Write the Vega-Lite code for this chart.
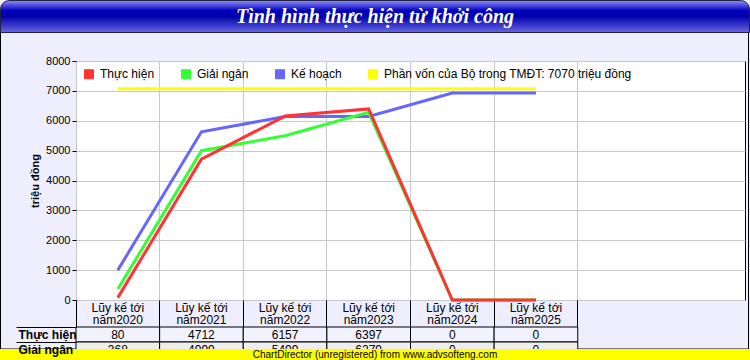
{
  "$schema": "https://vega.github.io/schema/vega-lite/v6.json",
  "width": 669,
  "height": 239,
  "autosize": {"type": "none"},
  "padding": {"left": 76, "top": 61, "right": 5, "bottom": 60},
  "background": "#eeeeff",
  "view": {"fill": "white", "stroke": "black", "strokeWidth": 1},
  "config": {
    "font": "Liberation Sans",
    "axis": {"labelFont": "Liberation Sans", "titleFont": "Liberation Sans"},
    "legend": {"labelFont": "Liberation Sans"}
  },
  "datasets": {
    "series": [
      {"s": "Kế hoạch", "k": "Lũy kế tới năm2020", "v": 1000},
      {"s": "Kế hoạch", "k": "Lũy kế tới năm2021", "v": 5630},
      {"s": "Kế hoạch", "k": "Lũy kế tới năm2022", "v": 6140},
      {"s": "Kế hoạch", "k": "Lũy kế tới năm2023", "v": 6140},
      {"s": "Kế hoạch", "k": "Lũy kế tới năm2024", "v": 6930},
      {"s": "Kế hoạch", "k": "Lũy kế tới năm2025", "v": 6930},
      {"s": "Phần vốn của Bộ trong TMĐT: 7070 triệu đồng", "k": "Lũy kế tới năm2020", "v": 7070},
      {"s": "Phần vốn của Bộ trong TMĐT: 7070 triệu đồng", "k": "Lũy kế tới năm2025", "v": 7070},
      {"s": "Giải ngân", "k": "Lũy kế tới năm2020", "v": 368},
      {"s": "Giải ngân", "k": "Lũy kế tới năm2021", "v": 4999},
      {"s": "Giải ngân", "k": "Lũy kế tới năm2022", "v": 5499},
      {"s": "Giải ngân", "k": "Lũy kế tới năm2023", "v": 6279},
      {"s": "Giải ngân", "k": "Lũy kế tới năm2024", "v": 0},
      {"s": "Giải ngân", "k": "Lũy kế tới năm2025", "v": 0},
      {"s": "Thực hiện", "k": "Lũy kế tới năm2020", "v": 80},
      {"s": "Thực hiện", "k": "Lũy kế tới năm2021", "v": 4712},
      {"s": "Thực hiện", "k": "Lũy kế tới năm2022", "v": 6157},
      {"s": "Thực hiện", "k": "Lũy kế tới năm2023", "v": 6397},
      {"s": "Thực hiện", "k": "Lũy kế tới năm2024", "v": 0},
      {"s": "Thực hiện", "k": "Lũy kế tới năm2025", "v": 0}
    ],
    "table": [
      {"r": "Thực hiện", "k": "Lũy kế tới năm2020", "v": 80},
      {"r": "Thực hiện", "k": "Lũy kế tới năm2021", "v": 4712},
      {"r": "Thực hiện", "k": "Lũy kế tới năm2022", "v": 6157},
      {"r": "Thực hiện", "k": "Lũy kế tới năm2023", "v": 6397},
      {"r": "Thực hiện", "k": "Lũy kế tới năm2024", "v": 0},
      {"r": "Thực hiện", "k": "Lũy kế tới năm2025", "v": 0},
      {"r": "Giải ngân", "k": "Lũy kế tới năm2020", "v": 368},
      {"r": "Giải ngân", "k": "Lũy kế tới năm2021", "v": 4999},
      {"r": "Giải ngân", "k": "Lũy kế tới năm2022", "v": 5499},
      {"r": "Giải ngân", "k": "Lũy kế tới năm2023", "v": 6279},
      {"r": "Giải ngân", "k": "Lũy kế tới năm2024", "v": 0},
      {"r": "Giải ngân", "k": "Lũy kế tới năm2025", "v": 0}
    ]
  },
  "layer": [
    {
      "data": {"values": [{"part": "frame"}]},
      "mark": {"type": "rect", "fill": "transparent", "stroke": "black", "strokeWidth": 1},
      "encoding": {
        "x": {"field": "part", "type": "nominal", "scale": {"type": "band", "range": [-75.5, 672.5], "paddingInner": 0, "paddingOuter": 0}, "axis": null},
        "y": {"field": "part", "type": "nominal", "scale": {"type": "band", "range": [-28.5, 288], "paddingInner": 0, "paddingOuter": 0}, "axis": null}
      }
    },
    {
      "data": {"values": [{"part": "title", "t": "Tình hình thực hiện từ khởi công"}]},
      "encoding": {
        "x": {"field": "part", "type": "nominal", "bandPosition": 0.5, "scale": {"type": "band", "range": [-75.5, 673.5], "paddingInner": 0, "paddingOuter": 0}, "axis": null},
        "y": {"field": "part", "type": "nominal", "bandPosition": 0.5, "scale": {"type": "band", "range": [-60.5, -28.5], "paddingInner": 0, "paddingOuter": 0}, "axis": null}
      },
      "layer": [
        {
          "mark": {
            "type": "rect",
            "fill": {"gradient": "linear", "x1": 0, "y1": 0, "x2": 0, "y2": 1,
              "stops": [
                {"offset": 0, "color": "#9090ee"},
                {"offset": 0.12, "color": "#5a5ae6"},
                {"offset": 0.32, "color": "#0000bb"},
                {"offset": 0.5, "color": "#0000aa"},
                {"offset": 1, "color": "#6666e6"}
              ]},
            "stroke": "#222244",
            "strokeWidth": 1,
            "cornerRadiusTopLeft": 9,
            "cornerRadiusTopRight": 9
          }
        },
        {
          "mark": {"type": "text", "font": "Liberation Serif", "fontStyle": "italic", "fontWeight": "bold", "fontSize": 20, "color": "white", "baseline": "middle"},
          "encoding": {"text": {"field": "t"}}
        }
      ]
    },
    {
      "data": {"name": "series"},
      "mark": {"type": "line", "strokeWidth": 3},
      "encoding": {
        "x": {
          "field": "k", "type": "nominal", "bandPosition": 0.5,
          "scale": {"type": "band", "domain": ["Lũy kế tới năm2020", "Lũy kế tới năm2021", "Lũy kế tới năm2022", "Lũy kế tới năm2023", "Lũy kế tới năm2024", "Lũy kế tới năm2025", " "], "paddingInner": 0, "paddingOuter": 0.5, "align": 0},
          "axis": {
            "title": null, "orient": "bottom", "domain": false,
            "bandPosition": 0, "tickSize": 27, "tickColor": "black",
            "grid": true, "gridColor": "#c8c8c8",
            "labelExpr": "isString(datum.value) && indexof(datum.value, ' năm') > 0 ? [substring(datum.value, 0, indexof(datum.value, ' năm')), substring(datum.value, indexof(datum.value, ' năm') + 1)] : ''",
            "labelPadding": -25, "labelFontSize": 12, "labelColor": "black", "labelAngle": 0, "labelLineHeight": 12, "labelBaseline": "top", "labelAlign": "center"
          }
        },
        "y": {
          "field": "v", "type": "quantitative",
          "scale": {"domain": [0, 8000], "nice": false},
          "axis": {
            "orient": "left",
            "values": [0, 1000, 2000, 3000, 4000, 5000, 6000, 7000, 8000], "format": "d",
            "title": "triệu đồng", "titleFontSize": 11, "titleFontWeight": "bold", "titleColor": "black", "titlePadding": 5,
            "labelFontSize": 11, "labelColor": "black", "labelPadding": 2,
            "tickColor": "black", "tickSize": 4, "domain": false,
            "grid": true, "gridColor": "#c8c8c8"
          }
        },
        "color": {
          "field": "s", "type": "nominal",
          "scale": {"domain": ["Thực hiện", "Giải ngân", "Kế hoạch", "Phần vốn của Bộ trong TMĐT: 7070 triệu đồng"], "range": ["#ff3333", "#33ff33", "#6666ff", "#ffff00"]},
          "legend": {
            "orient": "top-left", "offset": 7, "direction": "horizontal", "title": null, "padding": 0,
            "symbolType": "square", "symbolSize": 81, "labelFontSize": 12, "labelColor": "black", "labelOffset": 5, "columnPadding": 24, "labelLimit": 0,
            "encode": {"symbols": {"update": {"fill": {"scale": "color", "field": "value"}, "stroke": {"value": "black"}, "strokeWidth": {"value": 1}, "opacity": {"value": 1}}}}
          }
        }
      }
    },
    {
      "data": {"name": "table"},
      "encoding": {
        "x": {"field": "k", "type": "nominal", "scale": {"type": "band", "domain": ["Lũy kế tới năm2020", "Lũy kế tới năm2021", "Lũy kế tới năm2022", "Lũy kế tới năm2023", "Lũy kế tới năm2024", "Lũy kế tới năm2025", " "], "paddingInner": 0, "paddingOuter": 0.5, "align": 0}, "axis": null},
        "y": {
          "field": "r", "type": "nominal",
          "scale": {"type": "band", "domain": ["Thực hiện", "Giải ngân"], "range": [266, 296], "paddingInner": 0, "paddingOuter": 0},
          "axis": {"orient": "left", "title": null, "bandPosition": 0, "tickSize": 60, "tickColor": "black", "domain": false, "labelAlign": "left", "labelPadding": -2, "labelFontSize": 12, "labelFontWeight": "bold", "labelColor": "black", "labelBaseline": "middle", "grid": false}
        }
      },
      "layer": [
        {
          "mark": {"type": "rect", "stroke": "black", "strokeWidth": 1},
          "encoding": {"fill": {"field": "r", "type": "nominal", "scale": {"domain": ["Thực hiện", "Giải ngân"], "range": ["#f2f2ff", "#eeeeee"]}, "legend": null}}
        },
        {
          "mark": {"type": "text", "fontSize": 12, "color": "black"},
          "encoding": {"text": {"field": "v", "type": "quantitative", "format": "d"}}
        }
      ]
    },
    {
      "data": {"values": [{"part": "footer", "t": "ChartDirector (unregistered) from www.advsofteng.com"}]},
      "encoding": {
        "x": {"field": "part", "type": "nominal", "bandPosition": 0.5, "scale": {"type": "band", "range": [-76, 674], "paddingInner": 0, "paddingOuter": 0}, "axis": null},
        "y": {"field": "part", "type": "nominal", "bandPosition": 0.5, "scale": {"type": "band", "range": [288, 299], "paddingInner": 0, "paddingOuter": 0}, "axis": null}
      },
      "layer": [
        {"mark": {"type": "rect", "fill": "#ffff00"}},
        {"mark": {"type": "text", "fontSize": 10, "color": "black", "baseline": "middle"}, "encoding": {"text": {"field": "t"}}}
      ]
    }
  ],
  "resolve": {
    "scale": {"x": "independent", "y": "independent"},
    "axis": {"x": "independent", "y": "independent"}
  }
}
